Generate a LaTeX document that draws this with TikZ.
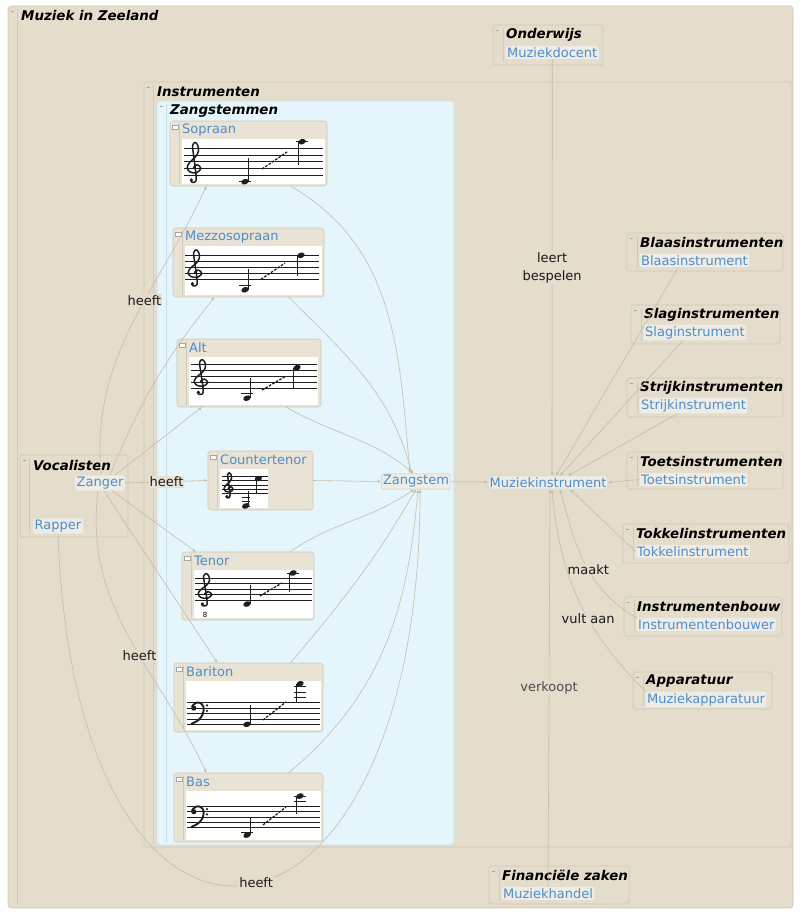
\documentclass[tikz,border=0pt]{standalone}
\usepackage{fontspec}
\setmainfont{DejaVu Sans}[BoldFont={DejaVu Sans Bold},ItalicFont={DejaVu Sans Oblique},BoldItalicFont={DejaVu Sans Bold Oblique}]
\usetikzlibrary{arrows.meta,positioning}
\definecolor{beige}{RGB}{228,221,204}
\definecolor{beigeline}{RGB}{210,201,182}
\definecolor{sky}{RGB}{228,245,252}
\definecolor{skyline}{RGB}{200,222,232}
\definecolor{voicefill}{RGB}{233,227,214}
\definecolor{conceptblue}{RGB}{79,141,199}
\definecolor{conceptfill}{RGB}{238,236,230}
\definecolor{wirec}{RGB}{198,189,170}
\definecolor{staffink}{RGB}{30,30,30}
\tikzset{
  >={Latex[length=3.5pt,width=3pt]},
  grp/.style={draw=beigeline,fill=#1,rounded corners=3pt,line width=0.6pt,
    anchor=north west,inner sep=0pt,outer sep=0pt},
  grp/.default=beige,
  strip/.style={draw=beigeline,line width=0.6pt},
  icon/.style={draw=black!35,line width=0.5pt},
  grptitle/.style={font=\fontsize{13.4}{15}\selectfont\bfseries\itshape,anchor=west,inner sep=0pt},
  concept/.style={fill=conceptfill,rounded corners=2pt,text=conceptblue,
    font=\fontsize{13}{15}\selectfont,inner sep=1.5pt},
  voice/.style={draw=beigeline,fill=voicefill,rounded corners=3pt,line width=0.6pt,
    anchor=north west,inner sep=0pt,outer sep=0pt},
  vname/.style={text=conceptblue,font=\fontsize{13}{15}\selectfont,anchor=west,inner sep=0pt},
  wire/.style={draw=wirec,line width=0.6pt,->},
  elabel/.style={font=\fontsize{13}{18}\selectfont,fill=beige,inner sep=1pt,text=black!90},
  staffline/.style={draw=staffink,line width=0.7pt},
  clefink/.style={draw=staffink,line width=1.5pt,line cap=round,line join=round},
  gliss/.style={draw=staffink,line width=1.3pt,dash pattern=on 2.6pt off 1.4pt},
  % clefs and notes (x in pt, y in staff steps)
  pics/gclef/.style={code={
    \draw[clefink] plot[smooth,tension=0.6] coordinates {(-0.5,2.3) (3.2,3.1) (6.8,2) (2.7,0.7)
      (-4,0.9) (-6.8,2.3) (-4,3.9) (1.4,5.4) (4.5,7.2) (3.6,9) (0.9,9.8) (-1.4,8.8) (-0.9,7)
      (0.9,3) (2.2,-0.8) (1.4,-2) (-1.8,-2.2) (-3.2,-1.6)};
    \fill[staffink] (-2.6,-1.5) circle (1.8pt);
  }},
  pics/g8clef/.style={code={
    \pic {gclef};
    \node[font=\fontsize{7}{7}\selectfont,inner sep=0pt] at (0,-5.5) {8};
  }},
  pics/fclef/.style={code={
    \fill[staffink] (-3.2,6) circle (2.6pt);
    \draw[clefink,line width=1.9pt] plot[smooth,tension=0.6] coordinates {(-5,6.6) (-1.3,7.9)
      (3.2,7.9) (6.5,6.4) (5.8,3.8) (1.5,1.6) (-5.5,0.2)};
    \fill[staffink] (10,7) circle (1.2pt) (10,5) circle (1.2pt);
  }},
  pics/staff/.style n args={2}{code={
    \foreach \k in {0,2,4,6,8} \draw[staffline] (0,\k) -- (#1,\k);
    \pic at (10,0) {#2clef};
  }},
  pics/tone/.style n args={2}{code={
    \fill[staffink,rotate around={20:(0,#1)}] (0,#1) ellipse [x radius=3.8pt,y radius=2.7pt];
    \draw[staffink,line width=0.9pt] ({(#2)*3.4},#1) -- ({(#2)*3.4},{#1+(#2)*7});
  }},
}
\begin{document}
\begin{tikzpicture}[x=1pt,y=1pt]
\useasboundingbox (0,0) rectangle (800,-915);

% groups
\foreach \n/\c/\d/\x/\y/\w/\h/\t in {zeeland/beige/beigeline/8/6/785/902/Muziek in Zeeland,
    instr/beige/beigeline/144/82/648/765/Instrumenten,
    zang/sky/skyline/157/101/297/744/Zangstemmen,
    vocal/beige/beigeline/20/455/108/82/Vocalisten}{
  \node[grp=\c,draw=\d,minimum width=\w,minimum height=\h] (\n) at (\x,-\y) {};
  \draw[draw=\d,line width=0.6pt] (\x+9.5,-\y-3) -- (\x+9.5,-\y-\h+3);
  \draw[icon] (\x+3,-\y-5) -- ++(2.5,0);
  \node[grptitle] at (\x+13,-\y-10) {\t};
}
\foreach \n/\x/\y/\w/\h/\t/\s in {onder/493/25/110/40/Onderwijs/Muziekdocent,
    blaas/627/233/156/38/Blaasinstrumenten/Blaasinstrument,
    slag/631/305/149/39/Slaginstrumenten/Slaginstrument,
    strijk/627/378/156/39/Strijkinstrumenten/Strijkinstrument,
    toets/627/452/156/37/Toetsinstrumenten/Toetsinstrument,
    tokkel/623/524/166/39/Tokkelinstrumenten/Tokkelinstrument,
    bouw/624/597/158/39/Instrumentenbouw/Instrumentenbouwer,
    app/633/672/139/37/Apparatuur/Muziekapparatuur,
    fin/489/866/140/38/Financiële zaken/Muziekhandel}{
  \node[grp,minimum width=\w,minimum height=\h] (\n) at (\x,-\y) {};
  \draw[strip] (\x+10,-\y-3) -- (\x+10,-\y-\h+3);
  \draw[icon] (\x+3,-\y-5) -- ++(2.5,0);
  \node[grptitle] at (\x+13,-\y-9.5) {\t};
  \node[concept,anchor=west] (\n-c) at (\x+12.5,-\y-27.5) {\s};
}

% voices
\foreach \n/\t/\x/\y/\w/\h/\iw in {sopraan/Sopraan/170/121/157/65/143,
    mezzo/Mezzosopraan/173/228/151/69/137,
    alt/Alt/177/339/144/68/129,
    counter/Countertenor/208/451/105/59/48,
    tenor/Tenor/182/552/132/68/119,
    bariton/Bariton/174/663/149/69/135,
    bas/Bas/174/773/149/69/135}{
  \node[voice,minimum width=\w,minimum height=\h] (\n) at (\x,-\y) {};
  \draw[strip] (\x+9,-\y-2) -- (\x+9,-\y-\h+2);
  \draw[icon,fill=white] (\x+2,-\y-4) rectangle (\x+8,-\y-8.5);
  \node[vname] at (\x+12,-\y-9) {\t};
  \fill[white] (\x+12,-\y-18) rectangle (\x+12+\iw,-\y-\h+2);
}

% staves
\begin{scope}[shift={(184,-175)},y=3.33pt]
  \pic {staff={139}{g}};
  \foreach \lx/\ls in {61/-2,118/10} \draw[staffline] (\lx-6,\ls) -- (\lx+6,\ls);
  \pic at (61,0) {tone={-2}{1}};
  \pic at (118,0) {tone={10}{-1}};
  \draw[gliss] (78,1.8) -- (103,6.9);
\end{scope}
\begin{scope}[shift={(185,-279.3)},y=3pt]
  \pic {staff={134}{g}};
  \foreach \lx/\ls in {60/-2} \draw[staffline] (\lx-6,\ls) -- (\lx+6,\ls);
  \pic at (60,0) {tone={-3.5}{1}};
  \pic at (116,0) {tone={8}{-1}};
  \draw[gliss] (76,0) -- (100,5.4);
\end{scope}
\begin{scope}[shift={(191,-388)},y=2.9pt]
  \pic {staff={126}{g}};
  \foreach \lx/\ls in {56/-2} \draw[staffline] (\lx-6,\ls) -- (\lx+6,\ls);
  \pic at (56,0) {tone={-3.5}{1}};
  \pic at (106,0) {tone={7}{-1}};
  \draw[gliss] (71,-0.7) -- (95,4.1);
\end{scope}
\begin{scope}[shift={(222,-493.3)},x=0.66pt,y=2.1pt]
  \pic {staff={70}{g}};
  \foreach \lx/\ls in {36/-2,36/-4,36/-6} \draw[staffline] (\lx-6,\ls) -- (\lx+6,\ls);
  \pic at (36,0) {tone={-6}{1}};
  \pic at (55,0) {tone={7}{-1}};
\end{scope}
\begin{scope}[shift={(195,-600)},y=2.7pt]
  \pic {staff={117}{g8}};
  \foreach \lx/\ls in {98/10} \draw[staffline] (\lx-6,\ls) -- (\lx+6,\ls);
  \pic at (52,0) {tone={-1.5}{1}};
  \pic at (98,0) {tone={10}{-1}};
  \draw[gliss] (65,1.5) -- (87,6.3);
\end{scope}
\begin{scope}[shift={(187,-724.3)},y=2.7pt]
  \pic {staff={133}{f}};
  \foreach \lx/\ls in {113/10,113/12,113/14} \draw[staffline] (\lx-6,\ls) -- (\lx+6,\ls);
  \pic at (60,0) {tone={0}{1}};
  \pic at (113,0) {tone={15}{-1}};
  \draw[gliss] (76,1.6) -- (99,8.3);
\end{scope}
\begin{scope}[shift={(187,-827.3)},y=2.6pt]
  \pic {staff={133}{f}};
  \foreach \lx/\ls in {60/-2,113/10,113/12} \draw[staffline] (\lx-6,\ls) -- (\lx+6,\ls);
  \pic at (60,0) {tone={-3}{1}};
  \pic at (113,0) {tone={12}{-1}};
  \draw[gliss] (76,0.9) -- (99,7.8);
\end{scope}

% concepts
\node[concept] (zanger) at (100,-483) {Zanger};
\node[concept] (rapper) at (58,-526) {Rapper};
\node[concept,draw=beigeline] (zangstem) at (416,-481.5) {Zangstem};
\node[concept,draw=beigeline] (mi) at (548,-482.5) {Muziekinstrument};

% voices -> Zangstem
\draw[wire] ([xshift=42pt]sopraan.south) to[out=-30,in=95] ([xshift=-6pt]zangstem.north);
\draw[wire] ([xshift=40pt]mezzo.south) to[out=-45,in=105] ([xshift=-4pt]zangstem.north);
\draw[wire] ([xshift=37pt]alt.south) to[out=-30,in=140] ([xshift=-2pt]zangstem.north);
\draw[wire] (counter.east) -- (zangstem.west);
\draw[wire] ([xshift=42pt]tenor.north) to[out=35,in=-145] ([xshift=-2pt]zangstem.south);
\draw[wire] ([xshift=42pt]bariton.north) to[out=50,in=-120] (zangstem.south);
\draw[wire] ([xshift=40pt]bas.north) to[out=40,in=-95] ([xshift=2pt]zangstem.south);

% Zanger / Rapper
\draw[wire] ([xshift=1pt]zanger.north) to[out=95,in=-115] node[elabel,pos=0.6] {heeft} ([xshift=-42pt]sopraan.south);
\draw[wire] ([xshift=10pt]zanger.north) to[bend left=8] ([xshift=-34pt]mezzo.south);
\draw[wire] ([xshift=15pt]zanger.north) -- ([xshift=-47pt]alt.south);
\draw[wire] (zanger.east) -- node[elabel,fill=voicefill] {heeft} (counter.west);
\draw[wire] ([xshift=12pt]zanger.south) -- ([xshift=-52pt]tenor.north);
\draw[wire] ([xshift=4pt]zanger.south) -- ([xshift=-31pt]bariton.north);
\draw[wire] ([xshift=-2pt]zanger.south) to[out=-97,in=115] node[elabel,pos=0.58] {heeft} ([xshift=-42pt]bas.north);
\draw[wire] (rapper.south) to[out=-88,in=-90,looseness=3.5] node[elabel,pos=0.52] {heeft} ([xshift=4pt]zangstem.south);

% Muziekinstrument
\draw[wire] (zangstem) -- (mi);
\draw[wire] (onder-c.south) -- node[elabel,align=center] {leert\\bespelen} ([xshift=4pt]mi.north);
\draw[wire] ([xshift=-16pt]blaas-c.south) -- ([xshift=8pt]mi.north);
\draw[wire] ([xshift=-12pt]slag-c.south) -- ([xshift=12pt]mi.north);
\draw[wire] ([xshift=-16pt]strijk-c.south) -- ([xshift=20pt]mi.north);
\draw[wire] (toets-c.west) -- (mi.east);
\draw[wire] (tokkel-c.west) -- ([xshift=22pt]mi.south);
\draw[wire] (bouw-c.north west) to[out=150,in=-75] node[elabel,pos=0.45] {maakt} ([xshift=12pt]mi.south);
\draw[wire] (app-c.north west) to[out=135,in=-85] node[elabel,pos=0.4] {vult aan} ([xshift=4pt]mi.south);
\draw[wire] (fin-c.north) -- node[elabel,text=black!70] {verkoopt} ([xshift=2pt]mi.south);
\end{tikzpicture}
\end{document}
